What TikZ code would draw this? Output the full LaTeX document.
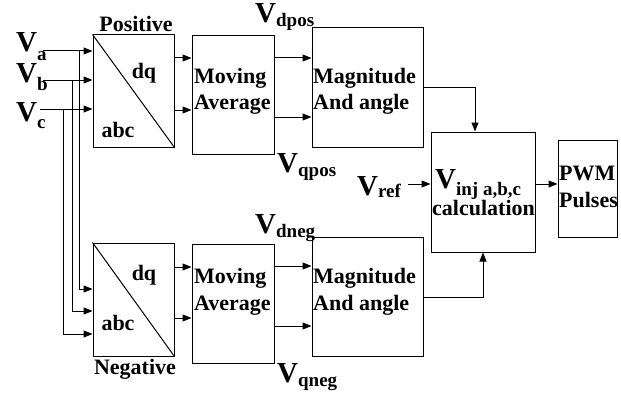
\documentclass[tikz,border=0pt]{standalone}
\usepackage{fontspec}
\setmainfont{Liberation Serif}
\usetikzlibrary{arrows.meta}
\newcommand{\vlab}[2]{{\fontsize{29}{29}\selectfont V}\raisebox{-#2pt}{\fontsize{19}{19}\selectfont #1}}
\begin{document}
\begin{tikzpicture}[x=1pt,y=-1pt,
  box/.style={draw,line width=1pt,inner sep=0pt},
  txt/.style={inner sep=0pt,font=\fontsize{22}{22}\selectfont\bfseries},
  arr/.style={line width=1pt,-{Triangle[length=9pt,width=7pt]}},
  wire/.style={line width=1pt}]
\useasboundingbox (0,0) rectangle (621,396);
% boxes
\node[box,minimum width=81pt,minimum height=112pt] (P) at (133.5,91) {};
\node[box,minimum width=81pt,minimum height=113pt] (N) at (133.5,299.5) {};
\node[box,minimum width=82pt,minimum height=118pt] (MAt) at (233,95) {};
\node[box,minimum width=82pt,minimum height=119pt] (MAb) at (233,303.5) {};
\node[box,minimum width=111pt,minimum height=119pt] (Mt) at (367.5,87.5) {};
\node[box,minimum width=111pt,minimum height=119pt] (Mb) at (367.5,296.5) {};
\node[box,minimum width=104pt,minimum height=120pt] (C) at (483,192) {};
\node[box,minimum width=59pt,minimum height=97pt] (W) at (587.5,188.5) {};
\draw[wire] (P.north west) -- (P.south east);
\draw[wire] (N.north west) -- (N.south east);
% texts
\node[txt,anchor=base] (tpos) at (136,32) {Positive};
\node[txt,anchor=base] (tneg) at (135,374) {Negative};
\node[txt,anchor=base] (tdq1) at (144,78) {dq};
\node[txt,anchor=base] (tdq2) at (144,280) {dq};
\node[txt,anchor=base] (tabc1) at (118,137) {abc};
\node[txt,anchor=base] (tabc2) at (118,330) {abc};
\node[txt,anchor=base west] (tmv1) at (194,83) {Moving};
\node[txt,anchor=base west] (tav1) at (194,110) {Average};
\node[txt,anchor=base west] (tmv2) at (194,283) {Moving};
\node[txt,anchor=base west] (tav2) at (194,310) {Average};
\node[txt,anchor=base west] (tmg1) at (313,83) {Magnitude};
\node[txt,anchor=base west] (tan1) at (313,110) {And angle};
\node[txt,anchor=base west] (tmg2) at (313,283) {Magnitude};
\node[txt,anchor=base west] (tan2) at (313,310) {And angle};
\node[txt,anchor=base west] (tva) at (16,52) {\vlab{a}{9}};
\node[txt,anchor=base west] (tvb) at (16,82) {\vlab{b}{9}};
\node[txt,anchor=base west] (tvc) at (16,121) {\vlab{c}{7}};
\node[txt,anchor=base west] (tvdp) at (255,23) {\vlab{dpos}{4}};
\node[txt,anchor=base west] (tvqp) at (277,172) {\vlab{qpos}{4}};
\node[txt,anchor=base west] (tvdn) at (255,233) {\vlab{dneg}{4}};
\node[txt,anchor=base west] (tvqn) at (277,382) {\vlab{qneg}{4}};
\node[txt,anchor=base west] (tvref) at (357,195) {\vlab{ref}{2}};
\node[txt,anchor=base west] (tvinj) at (435,188) {\vlab{inj a,b,c}{7}};
\node[txt,anchor=base west] (tcalc) at (432,215) {calculation};
\node[txt,anchor=base west] (tpwm) at (559,180) {PWM};
\node[txt,anchor=base west] (tpul) at (559,207) {Pulses};
% inputs
\coordinate (ia) at (43,51);
\coordinate (ib) at (43,80);
\coordinate (ic) at (40,109);
\coordinate (ja) at (79,51);
\coordinate (jb) at (72,80);
\coordinate (jc) at (63,109);
\draw[arr] (ia) -- (P.west |- ia);
\draw[arr] (ib) -- (P.west |- ib);
\draw[arr] (ic) -- (P.west |- ic);
\draw[arr] (ja) |- (N.west |- 0,289);
\draw[arr] (jb) |- (N.west |- 0,311);
\draw[arr] (jc) |- (N.west |- 0,334);
% P/N -> MA
\draw[arr] (P.east |- 0,58) -- (MAt.west |- 0,58);
\draw[arr] (P.east |- 0,110) -- (MAt.west |- 0,110);
\draw[arr] (N.east |- 0,267) -- (MAb.west |- 0,267);
\draw[arr] (N.east |- 0,318) -- (MAb.west |- 0,318);
% MA -> Mag
\draw[arr] (MAt.east |- 0,58) -- (Mt.west |- 0,58);
\draw[arr] (MAt.east |- 0,117) -- (Mt.west |- 0,117);
\draw[arr] (MAb.east |- 0,266) -- (Mb.west |- 0,266);
\draw[arr] (MAb.east |- 0,326) -- (Mb.west |- 0,326);
% Mag -> calc
\draw[arr] (Mt.east |- 0,87) -| (C.north -| 475,0);
\draw[arr] (Mb.east |- 0,297) -| (C.south);
% Vref and output
\coordinate (vr) at (408,184);
\draw[arr] (vr) -- (C.west |- vr);
\draw[arr] (C.east |- vr) -- (W.west |- vr);
\end{tikzpicture}
\end{document}
